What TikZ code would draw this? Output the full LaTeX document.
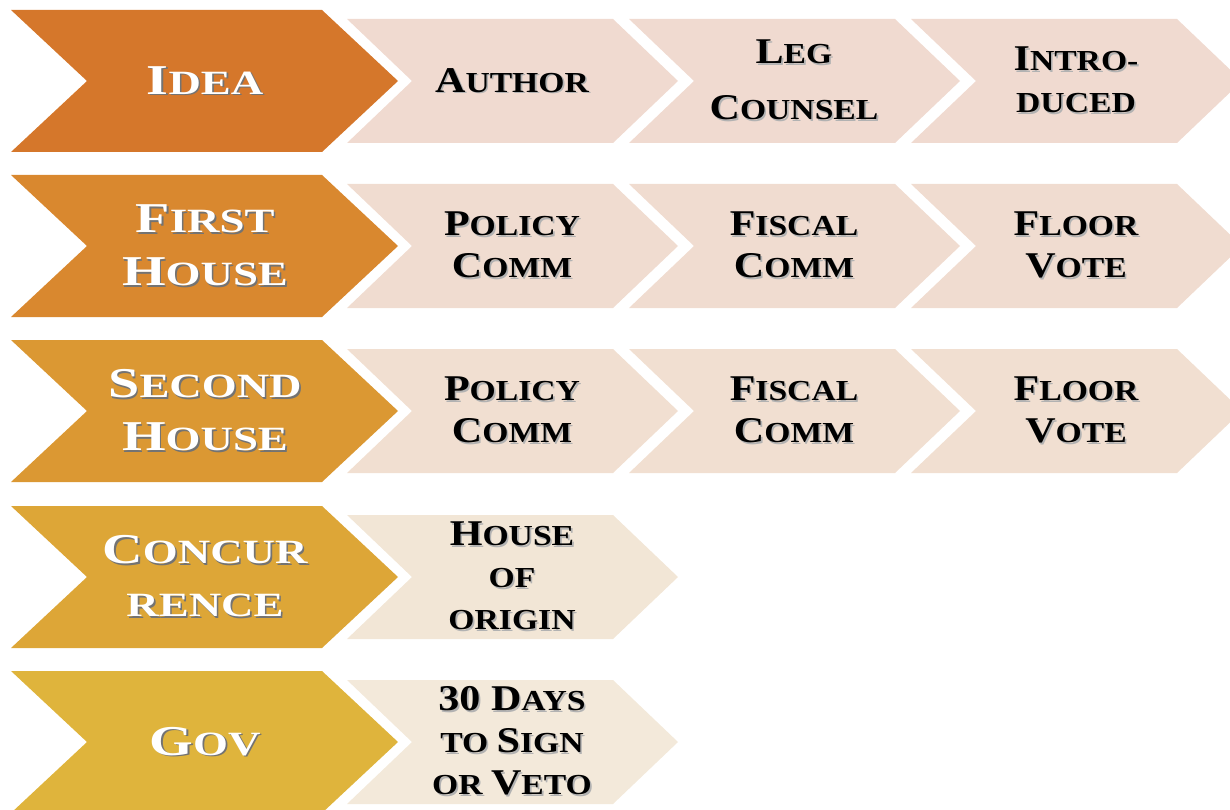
\documentclass[tikz,border=0pt]{standalone}
\usepackage{fontspec}
\usepackage{graphicx}
\usepackage{tikz}
\setmainfont[FakeStretch=1.16]{Liberation Serif}
\newfontfamily\widefam[FakeStretch=1.32]{Liberation Serif}

\definecolor{bigA}{HTML}{D5772B}
\definecolor{bigB}{HTML}{D9882F}
\definecolor{bigC}{HTML}{DB9833}
\definecolor{bigD}{HTML}{DDA637}
\definecolor{bigE}{HTML}{DFB43C}
\definecolor{lightA}{HTML}{F0DAD0}
\definecolor{lightB}{HTML}{F0DCD0}
\definecolor{lightC}{HTML}{F1DFD1}
\definecolor{lightD}{HTML}{F2E6D6}
\definecolor{lightE}{HTML}{F3E9DA}
\colorlet{shcol}{black!40}

% x, y (middle), top length, point depth, half height, colour
\newcommand{\chev}[6]{%
  \fill[#6] (#1,#2-#5) -- ++(#3,0) -- ++(#4,#5) -- ++(-#4,#5) -- ++(-#3,0) -- ++(#4,-#5) -- cycle;}
\newcommand{\ini}[1]{\scalebox{1.25}{#1}}
\newcommand{\shd}[1]{\makebox[0pt][l]{\hspace{1.6pt}\raisebox{-1.6pt}{\color{shcol}#1}}#1}

\begin{document}
\begin{tikzpicture}[x=1pt,y=-1pt]
    \tikzstyle{headtxt}=[text=white,align=center,inner sep=0pt,
        font=\widefam\bfseries\fontsize{34}{53}\selectfont,
        execute at begin node={\colorlet{shcol}{black!55}}]
    \tikzstyle{steptxt}=[text=black,align=center,inner sep=0pt,
        font=\bfseries\fontsize{29}{42}\selectfont,
        execute at begin node={\colorlet{shcol}{black!30}}]
    \clip (0,0) rectangle (1230,810);

    % chevrons
    \foreach \y/\c in {81/bigA, 246/bigB, 411/bigC, 577/bigD, 742/bigE}
        \chev{11}{\y}{311}{76}{71}{\c};
    \foreach \y/\c in {81/lightA, 246/lightB, 411/lightC}
        \foreach \x in {347, 629, 911}
            \chev{\x}{\y}{266}{65}{62}{\c};
    \foreach \y/\c in {577/lightD, 742/lightE}
        \chev{347}{\y}{266}{65}{62}{\c};

    % row heads
    \node[headtxt] (idea) at (205,81) {\shd{\ini{I}DEA}};
    \node[headtxt] (first) at (205,246) {\shd{\ini{F}IRST}\\\shd{\ini{H}OUSE}};
    \node[headtxt] (second) at (205,411) {\shd{\ini{S}ECOND}\\\shd{\ini{H}OUSE}};
    \node[headtxt] (concur) at (205,577) {\shd{\ini{C}ONCUR}\\\shd{RENCE}};
    \node[headtxt] (gov) at (205,742) {\shd{\ini{G}OV}};

    % steps
    \node[steptxt] (author) at (512,81) {\shd{\ini{A}UTHOR}};
    \node[steptxt] (legc) at (794,81) {\shd{\ini{L}EG}\\[14pt]\shd{\ini{C}OUNSEL}};
    \node[steptxt] (intro) at (1076,81) {\shd{\ini{I}NTRO-}\\\shd{DUCED}};
    \foreach \r/\y in {1/246, 2/411} {
        \node[steptxt] (policy-\r) at (512,\y) {\shd{\ini{P}OLICY}\\\shd{\ini{C}OMM}};
        \node[steptxt] (fiscal-\r) at (794,\y) {\shd{\ini{F}ISCAL}\\\shd{\ini{C}OMM}};
        \node[steptxt] (floor-\r) at (1076,\y) {\shd{\ini{F}LOOR}\\\shd{\ini{V}OTE}};
    }
    \node[steptxt] (origin) at (512,577) {\shd{\ini{H}OUSE}\\\shd{OF}\\\shd{ORIGIN}};
    \node[steptxt] (veto) at (512,742) {\shd{\ini{30 D}AYS}\\\shd{TO \ini{S}IGN}\\\shd{OR \ini{V}ETO}};
\end{tikzpicture}
\end{document}
